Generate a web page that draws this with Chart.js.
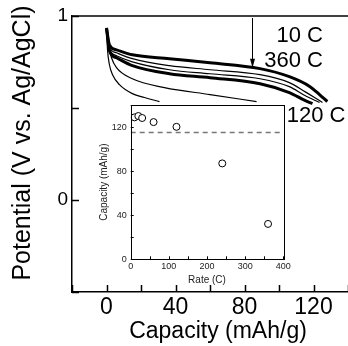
<!DOCTYPE html>
<html>
<head>
<meta charset="utf-8">
<script src="https://cdn.jsdelivr.net/npm/chart.js@4.4.1/dist/chart.umd.min.js"></script>
<style>
  html, body { margin: 0; padding: 0; background: #fff; }
  #wrap { position: relative; width: 348px; height: 346px; }
  #main { position: absolute; left: 0; top: 0; }
  #inset { position: absolute; left: 96px; top: 100px; }
</style>
</head>
<body>
<div id="wrap">
  <canvas id="main" width="348" height="346"></canvas>
  <canvas id="inset" width="196" height="192"></canvas>
</div>
<script>
const FONT = "'Liberation Sans', Arial, Helvetica, sans-serif";

/* Entladekurven: Kapazität (mAh/g) und Potential (V) */
const cap10  = [0, 1.7, 5.8, 15, 36.5, 60, 89, 106, 118, 123.5, 128];
const pot10  = [0.935, 0.843, 0.816, 0.789, 0.768, 0.746, 0.714, 0.670, 0.616, 0.573, 0.535];
const cap30  = [0, 1.7, 5.8, 15, 36.5, 60, 89, 106, 115, 120.6, 125.2];
const pot30  = [0.935, 0.832, 0.800, 0.768, 0.730, 0.708, 0.681, 0.638, 0.589, 0.557, 0.530];
const cap60  = [0, 1.7, 5.8, 15, 36.5, 60, 89, 106, 115, 123.5];
const pot60  = [0.935, 0.822, 0.784, 0.751, 0.708, 0.686, 0.659, 0.616, 0.568, 0.530];
const cap120 = [0, 1.7, 5.8, 15, 36.5, 60, 89, 106, 115, 119.4];
const pot120 = [0.935, 0.811, 0.773, 0.730, 0.686, 0.665, 0.632, 0.584, 0.541, 0.524];
const cap240 = [0, 1.2, 2.9, 5.8, 15, 33.6, 60, 87];
const pot240 = [0.935, 0.843, 0.773, 0.719, 0.659, 0.611, 0.573, 0.535];
const cap360 = [0, 0.6, 1.7, 3.5, 7.5, 15, 22, 30.7];
const pot360 = [0.935, 0.816, 0.735, 0.681, 0.627, 0.578, 0.557, 0.535];

const curveNames = ['10 C', '30 C', '60 C', '120 C', '240 C', '360 C'];
const curveCaps  = [cap10, cap30, cap60, cap120, cap240, cap360];
const curvePots  = [pot10, pot30, pot60, pot120, pot240, pot360];
const thickCurves = ['10 C', '120 C'];

const xTickLabels = [0, 40, 80, 120];
const yTickLabels = [0, 1];

/* Inset: Kapazität gegen Rate */
const rates = [10, 20, 30, 60, 120, 240, 360];
const rateCapacity = [128.8, 130, 128.2, 124.5, 120.2, 87, 32.1];
const refCapacity = 115;

/* Achsen-Innenabstände auf null, damit die Zeichenfläche fest sitzt */
function noPad(s) {
  s.paddingTop = 0; s.paddingBottom = 0; s.paddingLeft = 0; s.paddingRight = 0;
}

/* Ticks nach innen zeichnen */
function inwardTicks(len, width) {
  return {
    id: 'inwardTicks',
    afterDatasetsDraw(chart) {
      const { ctx, chartArea: a, scales: { x, y } } = chart;
      ctx.save();
      ctx.strokeStyle = '#000';
      ctx.lineWidth = width;
      ctx.beginPath();
      x.ticks.forEach(t => {
        const px = Math.round(x.getPixelForValue(t.value)) + 0.5;
        ctx.moveTo(px, a.bottom); ctx.lineTo(px, a.bottom - len);
      });
      y.ticks.forEach(t => {
        const py = Math.round(y.getPixelForValue(t.value)) + 0.5;
        ctx.moveTo(a.left, py); ctx.lineTo(a.left + len, py);
      });
      ctx.stroke();
      ctx.restore();
    }
  };
}

const mainDecor = {
  id: 'mainDecor',
  afterDraw(chart) {
    const { ctx, chartArea: a, scales: { x, y } } = chart;
    ctx.save();
    /* obere Rahmenlinie */
    ctx.strokeStyle = '#000';
    ctx.lineWidth = 1.5;
    ctx.beginPath();
    ctx.moveTo(a.left, a.top); ctx.lineTo(a.right, a.top);
    ctx.stroke();

    /* Pfeil 10 C -> 360 C */
    const ax = Math.round(x.getPixelForValue(84.6)) + 0.5;
    const ay0 = y.getPixelForValue(0.989), ay1 = y.getPixelForValue(0.719);
    ctx.lineWidth = 1;
    ctx.beginPath();
    ctx.moveTo(ax, ay0); ctx.lineTo(ax, ay1 - 6);
    ctx.stroke();
    ctx.fillStyle = '#000';
    ctx.beginPath();
    ctx.moveTo(ax - 2.5, ay1 - 9); ctx.lineTo(ax + 2.5, ay1 - 9); ctx.lineTo(ax, ay1);
    ctx.closePath(); ctx.fill();

    ctx.font = '22px ' + FONT;
    ctx.textBaseline = 'alphabetic';
    ctx.textAlign = 'right';
    ctx.fillText('10 C', x.getPixelForValue(125.5), y.getPixelForValue(0.859));
    ctx.fillText('360 C', x.getPixelForValue(125.5), y.getPixelForValue(0.724));
    ctx.textAlign = 'left';
    ctx.fillText('120 C', x.getPixelForValue(104.5), y.getPixelForValue(0.422));

    /* Achsentitel */
    ctx.font = '23px ' + FONT;
    ctx.textAlign = 'center';
    ctx.fillText('Capacity (mAh/g)', 218, 338);
    ctx.save();
    ctx.translate(30, 143);
    ctx.rotate(-Math.PI / 2);
    ctx.font = '25px ' + FONT;
    ctx.fillText('Potential (V vs. Ag/AgCl)', 0, 0);
    ctx.restore();
    ctx.restore();
  }
};

const mainChart = new Chart(document.getElementById('main'), {
  type: 'scatter',
  data: {
    datasets: curveNames.map((name, i) => ({
      label: name,
      data: curveCaps[i].map((c, j) => ({ x: c, y: curvePots[i][j] })),
      showLine: true,
      borderColor: '#000',
      borderWidth: thickCurves.includes(name) ? 3 : 1.2,
      pointRadius: 0,
      cubicInterpolationMode: 'monotone',
      fill: false,
    })),
  },
  options: {
    responsive: false, animation: false,
    layout: { padding: { top: 16, right: 0, left: 0, bottom: 0 } },
    plugins: { legend: { display: false }, tooltip: { enabled: false } },
    scales: {
      x: {
        type: 'linear', min: -20, max: 140,
        afterFit: s => { s.height = 54; noPad(s); },
        grid: { display: false, drawTicks: false },
        border: { color: '#000', width: 1.5 },
        ticks: {
          stepSize: 20, autoSkip: false, maxRotation: 0, padding: 2,
          color: '#000', font: { family: FONT, size: 23 },
          callback: v => xTickLabels.includes(v) ? String(v) : '',
        },
      },
      y: {
        min: -0.5, max: 1,
        afterFit: s => { s.width = 72; noPad(s); },
        grid: { display: false, drawTicks: false },
        border: { color: '#000', width: 1.5 },
        ticks: {
          stepSize: 0.5, autoSkip: false, padding: 4,
          color: '#000', font: { family: FONT, size: 19 },
          callback: v => yTickLabels.includes(v) ? String(v) : '',
        },
      },
    },
  },
  plugins: [inwardTicks(7, 1.5), mainDecor],
});

const insetBox = {
  id: 'insetBox',
  beforeDraw(chart) {
    const { ctx, chartArea: a } = chart;
    ctx.save();
    ctx.fillStyle = '#fff';
    ctx.fillRect(a.left, a.top, a.right - a.left, a.bottom - a.top);
    ctx.restore();
  },
  afterDraw(chart) {
    const { ctx, chartArea: a } = chart;
    ctx.save();
    ctx.strokeStyle = '#000';
    ctx.lineWidth = 1;
    ctx.strokeRect(Math.round(a.left) + 0.5, Math.round(a.top) + 0.5,
      Math.round(a.right - a.left), Math.round(a.bottom - a.top));
    ctx.restore();
  }
};

const insetChart = new Chart(document.getElementById('inset'), {
  type: 'scatter',
  data: {
    datasets: [
      { label: 'Kapazität', data: rates.map((r, i) => ({ x: r, y: rateCapacity[i] })),
        pointStyle: 'circle', pointRadius: 3.5, backgroundColor: '#fff',
        borderColor: '#000', borderWidth: 1, order: 0 },
      { label: 'Referenz', data: [{ x: 0, y: refCapacity }, { x: 400, y: refCapacity }],
        type: 'line', showLine: true, pointRadius: 0, borderColor: '#777',
        borderWidth: 1.5, borderDash: [5, 4], fill: false, order: 1 },
    ],
  },
  options: {
    responsive: false, animation: false,
    layout: { padding: { top: 5, right: 8.7, left: 0, bottom: 0 } },
    plugins: { legend: { display: false }, tooltip: { enabled: false } },
    scales: {
      x: {
        type: 'linear', min: 0, max: 400,
        afterFit: s => { s.height = 32.7; noPad(s); },
        grid: { display: false, drawTicks: false },
        border: { display: false },
        title: { display: true, text: 'Rate (C)', color: '#222',
                 font: { family: FONT, size: 10 }, padding: { top: 0, bottom: 6 } },
        ticks: {
          stepSize: 50, autoSkip: false, maxRotation: 0, padding: 2,
          color: '#222', font: { family: FONT, size: 9 },
          callback: v => v % 100 === 0 ? String(v) : '',
        },
      },
      y: {
        min: 0, max: 140,
        afterFit: s => { s.width = 34.7; noPad(s); },
        grid: { display: false, drawTicks: false },
        border: { display: false },
        title: { display: true, text: 'Capacity (mAh/g)', color: '#222',
                 font: { family: FONT, size: 10 }, padding: { top: 2, bottom: 0 } },
        ticks: {
          stepSize: 20, autoSkip: false, padding: 4,
          color: '#222', font: { family: FONT, size: 9 },
          callback: v => v % 40 === 0 ? String(v) : '',
        },
      },
    },
  },
  plugins: [insetBox, inwardTicks(3, 1)],
});
</script>
</body>
</html>
